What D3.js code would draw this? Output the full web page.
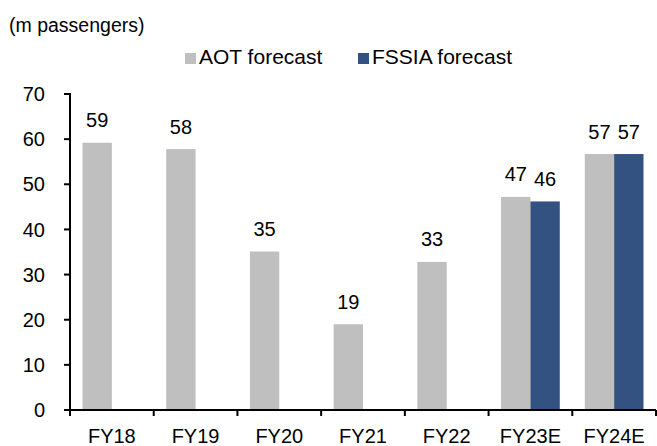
<!DOCTYPE html>
<html><head><meta charset="utf-8">
<script src="https://cdn.jsdelivr.net/npm/d3@7"></script>
<style>body{margin:0;background:#fff}svg{display:block}text{font-family:"Liberation Sans",Arial,sans-serif;fill:#000}</style>
</head><body>
<svg id="c" width="657" height="446"></svg>
<script>
const categories = ["FY18","FY19","FY20","FY21","FY22","FY23E","FY24E"];
const aot = [59.2, 57.8, 35.1, 19.0, 32.8, 47.2, 56.7];
const fssia = [null, null, null, null, null, 46.2, 56.7];
const aotLabels = ["59","58","35","19","33","47","57"];
const fssiaLabels = [null,null,null,null,null,"46","57"];
const yTicks = [0,10,20,30,40,50,60,70];
const seriesNames = ["AOT forecast","FSSIA forecast"];
const colors = ["#BFBFBF","#335281"];

const svg = d3.select("#c");
const mLeft = 70, mRight = 656, mTop = 94, mBottom = 410;
const fs = 20;

const x = d3.scaleBand().domain(categories).range([mLeft, mRight]).paddingInner(0).paddingOuter(0);
const xs = d3.scaleBand().domain(seriesNames).range([12.5, x.bandwidth() - 12.5]).padding(0);
const y = d3.scaleLinear().domain([0, 70]).range([mBottom, mTop]);

const series = [
  {name: seriesNames[0], vals: aot, labels: aotLabels, color: colors[0]},
  {name: seriesNames[1], vals: fssia, labels: fssiaLabels, color: colors[1]}
];

series.forEach(s => {
  const data = categories.map((c, i) => ({c, v: s.vals[i], l: s.labels[i]})).filter(d => d.v != null);
  svg.append("g").selectAll("rect").data(data).join("rect")
    .attr("x", d => x(d.c) + xs(s.name))
    .attr("width", xs.bandwidth())
    .attr("y", d => y(d.v))
    .attr("height", d => y(0) - y(d.v))
    .attr("fill", s.color);
  svg.append("g").selectAll("text").data(data).join("text")
    .attr("x", d => x(d.c) + xs(s.name) + xs.bandwidth() / 2)
    .attr("y", d => y(d.v) - 15.5)
    .attr("text-anchor", "middle")
    .style("font-size", fs + "px")
    .text(d => d.l);
});

// y axis
const yAxis = svg.append("g");
yAxis.append("line").attr("x1", mLeft).attr("x2", mLeft).attr("y1", mTop - 1).attr("y2", mBottom)
  .attr("stroke", "#000").attr("stroke-width", 2);
yAxis.selectAll("line.t").data(yTicks).join("line").attr("class","t")
  .attr("x1", mLeft - 6).attr("x2", mLeft).attr("y1", d => y(d)).attr("y2", d => y(d))
  .attr("stroke", "#000").attr("stroke-width", 2);
yAxis.selectAll("text").data(yTicks).join("text")
  .attr("x", 45).attr("y", d => y(d)).attr("dy", "0.36em")
  .attr("text-anchor", "end").style("font-size", fs + "px").text(d => d);

// x axis
const xAxis = svg.append("g");
xAxis.append("line").attr("x1", mLeft - 6).attr("x2", mRight).attr("y1", mBottom).attr("y2", mBottom)
  .attr("stroke", "#000").attr("stroke-width", 2);
const bounds = categories.map(c => x(c)).concat([x(categories[categories.length-1]) + x.bandwidth()]);
xAxis.selectAll("line.t").data(bounds).join("line").attr("class","t")
  .attr("x1", d => d).attr("x2", d => d).attr("y1", mBottom).attr("y2", mBottom + 6)
  .attr("stroke", "#000").attr("stroke-width", 2);
xAxis.selectAll("text").data(categories).join("text")
  .attr("x", d => x(d) + x.bandwidth() / 2).attr("y", 443)
  .attr("text-anchor", "middle").style("font-size", fs + "px").text(d => d);

// title
svg.append("text").attr("x", 9).attr("y", 32).style("font-size", "19.5px").text("(m passengers)");

// legend
const legX = [185, 358];
series.forEach((s, i) => {
  svg.append("rect").attr("x", legX[i]).attr("y", 53).attr("width", 11).attr("height", 11).attr("fill", s.color);
  svg.append("text").attr("x", legX[i] + 14).attr("y", 64).style("font-size", "21px").text(s.name);
});
</script>
</body></html>
